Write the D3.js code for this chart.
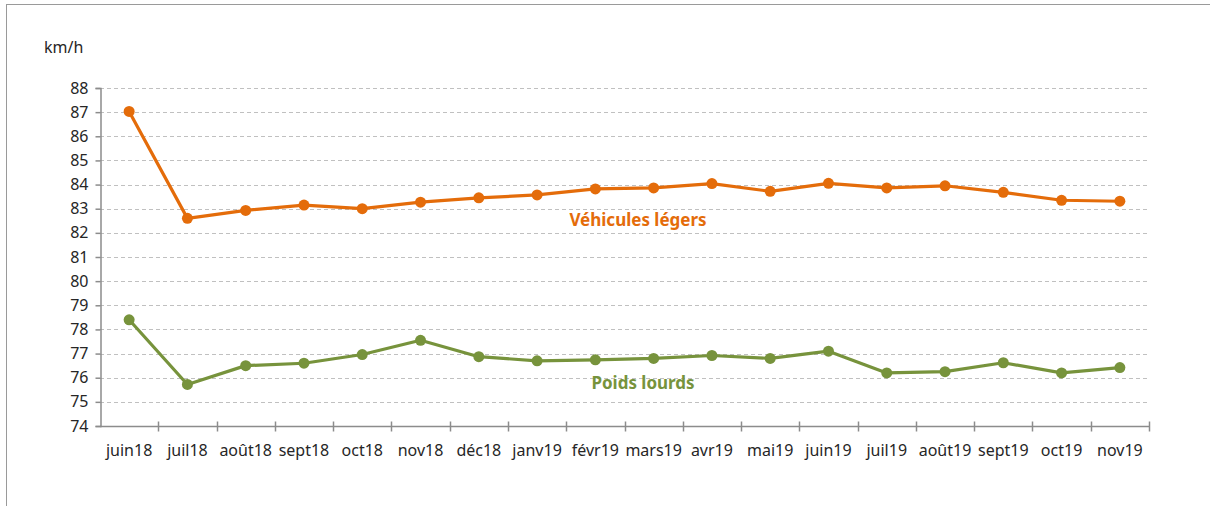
<!DOCTYPE html>
<html>
<head>
<meta charset="utf-8">
<script src="https://cdn.jsdelivr.net/npm/d3@7"></script>
<style>
  body { margin: 0; background: #fff; }
  svg { display: block; font-family: "Noto Sans", sans-serif; }
</style>
</head>
<body>
<div id="chart"></div>
<script>
const width = 1210;
const height = 506;
const marginTop = 88;
const marginRight = 61;
const marginBottom = 80;
const marginLeft = 100;

// data
const months = ["juin18", "juil18", "août18", "sept18", "oct18", "nov18", "déc18", "janv19", "févr19",
                "mars19", "avr19", "mai19", "juin19", "juil19", "août19", "sept19", "oct19", "nov19"];
const vehiculesLegers = [87.03, 82.6, 82.93, 83.15, 83.0, 83.27, 83.45, 83.57, 83.82,
                         83.86, 84.04, 83.72, 84.05, 83.86, 83.95, 83.68, 83.35, 83.31];
const poidsLourds = [78.4, 75.72, 76.5, 76.6, 76.96, 77.55, 76.87, 76.7, 76.74,
                     76.8, 76.92, 76.8, 77.1, 76.2, 76.25, 76.62, 76.2, 76.42];
const yTicks = [74, 75, 76, 77, 78, 79, 80, 81, 82, 83, 84, 85, 86, 87, 88];

const orange = "#E46C0A";
const green = "#77933C";
const axisGray = "#8C8C8C";
const textColor = "#262626";

const svg = d3.select("#chart")
    .append("svg")
    .attr("width", width)
    .attr("height", height);

// outer frame of the chart area
svg.append("rect")
    .attr("x", 6.5)
    .attr("y", 4.5)
    .attr("width", width + 10)
    .attr("height", height + 10)
    .attr("fill", "none")
    .attr("stroke", "#9A9A9A");

const x = d3.scaleBand()
    .domain(months)
    .range([marginLeft, width - marginRight]);

const y = d3.scaleLinear()
    .domain([74, 88])
    .range([height - marginBottom, marginTop]);

// grid lines
svg.append("g")
    .selectAll("line")
    .data(yTicks.filter(d => d > 74))
    .join("line")
    .attr("x1", marginLeft)
    .attr("x2", width - marginRight)
    .attr("y1", d => Math.round(y(d)) + 0.5)
    .attr("y2", d => Math.round(y(d)) + 0.5)
    .attr("stroke", "#C0C0C0")
    .attr("stroke-dasharray", "4,3");

// y axis
const yAxis = svg.append("g")
    .attr("transform", `translate(${marginLeft + 0.5},0)`)
    .call(d3.axisLeft(y).tickValues(yTicks).tickSize(5).tickPadding(7).tickFormat(d3.format("d")));
yAxis.select(".domain").attr("stroke", axisGray).attr("stroke-width", 1.5);
yAxis.selectAll(".tick line").attr("stroke", axisGray).attr("stroke-width", 1.5);
yAxis.selectAll(".tick text").attr("fill", textColor).style("font-size", "16px").style("font-family", "Noto Sans");

// x axis with cross ticks at category boundaries
const xAxisY = Math.round(y(74)) + 0.5;
const xAxis = svg.append("g");
xAxis.append("line")
    .attr("x1", marginLeft)
    .attr("x2", width - marginRight)
    .attr("y1", xAxisY)
    .attr("y2", xAxisY)
    .attr("stroke", axisGray)
    .attr("stroke-width", 1.5);
xAxis.selectAll("line.tick")
    .data(months.map((m, i) => i + 1))
    .join("line")
    .attr("class", "tick")
    .attr("x1", i => Math.round(marginLeft + i * x.step()) + 0.5)
    .attr("x2", i => Math.round(marginLeft + i * x.step()) + 0.5)
    .attr("y1", xAxisY - 5)
    .attr("y2", xAxisY + 5)
    .attr("stroke", axisGray)
    .attr("stroke-width", 1.5);
xAxis.selectAll("text")
    .data(months)
    .join("text")
    .attr("x", d => x(d) + x.bandwidth() / 2)
    .attr("y", xAxisY + 29)
    .attr("text-anchor", "middle")
    .attr("fill", textColor)
    .style("font-size", "16px")
    .text(d => d);

// unit label
svg.append("text")
    .attr("x", 44)
    .attr("y", 53)
    .attr("fill", textColor)
    .style("font-size", "16px")
    .text("km/h");

const line = d3.line()
    .x((d, i) => x(months[i]) + x.bandwidth() / 2)
    .y(d => y(d));

function drawSeries(values, color) {
    svg.append("path")
        .datum(values)
        .attr("fill", "none")
        .attr("stroke", color)
        .attr("stroke-width", 3.2)
        .attr("stroke-linejoin", "round")
        .attr("d", line);
    svg.append("g")
        .selectAll("circle")
        .data(values)
        .join("circle")
        .attr("cx", (d, i) => x(months[i]) + x.bandwidth() / 2)
        .attr("cy", d => y(d))
        .attr("r", 5.5)
        .attr("fill", color);
}

drawSeries(vehiculesLegers, orange);
drawSeries(poidsLourds, green);

// series labels
svg.append("text")
    .attr("x", 638)
    .attr("y", 226)
    .attr("text-anchor", "middle")
    .attr("fill", orange)
    .style("font-size", "17px")
    .style("font-weight", "bold")
    .text("Véhicules légers");

svg.append("text")
    .attr("x", 643)
    .attr("y", 389)
    .attr("text-anchor", "middle")
    .attr("fill", green)
    .style("font-size", "17px")
    .style("font-weight", "bold")
    .text("Poids lourds");
</script>
</body>
</html>
